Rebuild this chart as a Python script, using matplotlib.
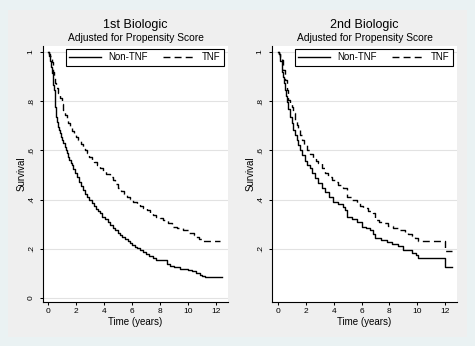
import matplotlib.pyplot as plt
from matplotlib.patches import Rectangle
from matplotlib.lines import Line2D

plt.rcParams['font.family'] = ['Liberation Sans', 'DejaVu Sans']

# Kaplan-Meier estimates, 1st biologic (time in years, survival after the step)
t1_non = [0.00, 0.08, 0.15, 0.22, 0.28, 0.33, 0.38, 0.43, 0.47, 0.50, 0.54, 0.57,
          0.65, 0.74, 0.80, 0.86, 0.95, 1.03, 1.10, 1.18, 1.26, 1.33, 1.42, 1.52,
          1.61, 1.70, 1.80, 1.93, 2.05, 2.20, 2.35, 2.52, 2.65, 2.80, 2.96, 3.12,
          3.26, 3.40, 3.55, 3.71, 3.88, 4.05, 4.25, 4.43, 4.62, 4.80, 4.97, 5.14,
          5.32, 5.50, 5.68, 5.86, 6.03, 6.20, 6.38, 6.57, 6.80, 7.00, 7.25, 7.52,
          7.75, 8.50, 8.71, 9.00, 9.40, 9.67, 10.00, 10.30, 10.60, 10.85, 11.00, 11.20,
          12.40]
s1_non = [1.000, 0.990, 0.965, 0.940, 0.915, 0.890, 0.866, 0.846, 0.815, 0.778, 0.755, 0.737,
          0.715, 0.696, 0.682, 0.670, 0.655, 0.641, 0.630, 0.615, 0.602, 0.590, 0.575, 0.561,
          0.550, 0.540, 0.524, 0.507, 0.490, 0.470, 0.455, 0.439, 0.424, 0.410, 0.397, 0.385,
          0.373, 0.363, 0.354, 0.344, 0.331, 0.320, 0.308, 0.297, 0.286, 0.275, 0.265, 0.256,
          0.247, 0.238, 0.230, 0.222, 0.215, 0.208, 0.202, 0.195, 0.187, 0.180, 0.170, 0.161,
          0.154, 0.140, 0.130, 0.124, 0.119, 0.117, 0.112, 0.108, 0.100, 0.093, 0.088, 0.084,
          0.084]
t1_tnf = [0.00, 0.05, 0.10, 0.18, 0.26, 0.32, 0.38, 0.44, 0.50, 0.60, 0.74, 0.85,
          0.97, 1.10, 1.22, 1.35, 1.46, 1.57, 1.72, 1.87, 2.02, 2.17, 2.32, 2.48,
          2.64, 2.80, 2.96, 3.12, 3.30, 3.50, 3.71, 3.90, 4.15, 4.43, 4.62, 4.82,
          5.02, 5.22, 5.42, 5.62, 5.85, 6.10, 6.35, 6.58, 6.81, 7.05, 7.28, 7.52,
          7.75, 8.00, 8.24, 8.55, 8.83, 9.20, 9.67, 10.05, 10.40, 10.60, 10.79, 11.00,
          12.29]
s1_tnf = [1.000, 0.990, 0.982, 0.972, 0.960, 0.940, 0.918, 0.895, 0.875, 0.855, 0.832, 0.812,
          0.788, 0.764, 0.745, 0.727, 0.711, 0.696, 0.680, 0.666, 0.653, 0.642, 0.628, 0.615,
          0.602, 0.588, 0.575, 0.561, 0.551, 0.539, 0.527, 0.518, 0.505, 0.493, 0.478, 0.462,
          0.446, 0.434, 0.423, 0.412, 0.402, 0.392, 0.382, 0.373, 0.365, 0.356, 0.346, 0.337,
          0.331, 0.324, 0.317, 0.303, 0.290, 0.283, 0.276, 0.266, 0.256, 0.248, 0.238, 0.232,
          0.232]

# 2nd biologic
t2_non = [0.00, 0.10, 0.18, 0.26, 0.32, 0.38, 0.44, 0.50, 0.56, 0.62, 0.74, 0.86,
          0.98, 1.10, 1.22, 1.34, 1.46, 1.58, 1.76, 1.94, 2.12, 2.30, 2.42, 2.66,
          2.90, 3.14, 3.38, 3.68, 3.97, 4.33, 4.69, 4.85, 4.98, 5.30, 5.65, 6.01,
          6.30, 6.61, 6.80, 6.97, 7.40, 7.81, 8.20, 8.64, 9.00, 9.60, 9.90, 10.08,
          12.00, 12.48]
s2_non = [1.000, 0.990, 0.965, 0.940, 0.920, 0.900, 0.873, 0.846, 0.822, 0.798, 0.767, 0.737,
          0.710, 0.683, 0.663, 0.642, 0.622, 0.602, 0.580, 0.557, 0.542, 0.527, 0.507, 0.487,
          0.466, 0.449, 0.432, 0.412, 0.392, 0.382, 0.371, 0.358, 0.331, 0.320, 0.310, 0.290,
          0.283, 0.276, 0.260, 0.243, 0.236, 0.229, 0.220, 0.211, 0.195, 0.182, 0.175, 0.161,
          0.127, 0.127]
t2_tnf = [0.00, 0.10, 0.18, 0.26, 0.38, 0.50, 0.62, 0.74, 0.86, 0.98, 1.10, 1.22,
          1.34, 1.46, 1.58, 1.70, 1.88, 2.06, 2.30, 2.54, 2.72, 2.90, 3.14, 3.38,
          3.62, 3.86, 4.10, 4.33, 4.70, 4.98, 5.30, 5.65, 5.90, 6.13, 6.50, 6.85,
          6.97, 7.27, 7.57, 7.93, 8.29, 8.70, 9.12, 9.35, 9.60, 9.85, 10.08, 12.00,
          12.48]
s2_tnf = [1.000, 0.990, 0.980, 0.967, 0.925, 0.886, 0.845, 0.805, 0.790, 0.778, 0.751, 0.724,
          0.703, 0.683, 0.662, 0.642, 0.622, 0.602, 0.585, 0.568, 0.558, 0.548, 0.527, 0.507,
          0.493, 0.480, 0.470, 0.459, 0.446, 0.412, 0.398, 0.385, 0.375, 0.365, 0.354, 0.344,
          0.317, 0.310, 0.303, 0.293, 0.283, 0.276, 0.270, 0.261, 0.252, 0.242, 0.232, 0.191,
          0.191]

xticks = [0, 2, 4, 6, 8, 10, 12]
yticks_1 = [0, 0.2, 0.4, 0.6, 0.8, 1]
ylabels_1 = ['0', '.2', '.4', '.6', '.8', '1']
yticks_2 = [0.2, 0.4, 0.6, 0.8, 1]
ylabels_2 = ['.2', '.4', '.6', '.8', '1']

W, H = 475, 346
fig = plt.figure(figsize=(W / 100, H / 100), dpi=100, facecolor='#EAF2F3')
# gray graph region behind both panels
fig.patches.append(Rectangle((8 / W, 9 / H), 459 / W, 327 / H, transform=fig.transFigure,
                             facecolor='#EFEFEF', edgecolor='none', zorder=-10))


def panel(left, xmin, title, t_non, s_non, t_tnf, s_tnf, yticks, ylabels):
    ax = fig.add_axes([left / W, 44 / H, 185 / W, 256 / H])
    ax.set_facecolor('white')
    ax.step(t_non, s_non, where='post', color='black', lw=1.0)
    ax.step(t_tnf, s_tnf, where='post', color='black', lw=1.0, linestyle=(0, (5, 3)))
    ax.set_xlim(xmin, 12.86)
    ax.set_ylim(-0.0163, 1.0244)
    ax.set_xticks(xticks)
    ax.set_yticks(yticks)
    ax.set_yticklabels(ylabels, rotation=90, va='center')
    ax.grid(axis='y', color='#E2E2E2', lw=0.8)
    ax.set_axisbelow(True)
    for side in ['top', 'right']:
        ax.spines[side].set_visible(False)
    for side in ['left', 'bottom']:
        ax.spines[side].set_linewidth(0.8)
    ax.tick_params(direction='out', length=2.4, width=0.75, labelsize=6)
    ax.tick_params(axis='y', pad=3.5)
    ax.tick_params(axis='x', pad=2)
    ax.set_xlabel('Time (years)', fontsize=7)
    ax.xaxis.set_label_coords(0.5, -0.058)
    ax.set_ylabel('Survival', fontsize=7)
    ax.yaxis.set_label_coords(-0.089, 0.5)
    ax.text(0.5, 1.070, title, transform=ax.transAxes, ha='center', va='baseline', fontsize=9)
    ax.text(0.5, 1.0195, 'Adjusted for Propensity Score', transform=ax.transAxes,
            ha='center', va='baseline', fontsize=7.4)
    handles = [Line2D([], [], color='black', lw=1.0),
               Line2D([], [], color='black', lw=1.0, linestyle=(0, (5, 3)))]
    leg = ax.legend(handles, ['Non-TNF', 'TNF'], ncol=2, loc='upper right',
                    bbox_to_anchor=(0.978, 0.988), borderaxespad=0, fancybox=False,
                    edgecolor='black', framealpha=1, fontsize=7, handlelength=3.3,
                    handletextpad=0.7, columnspacing=1.6, borderpad=0.35)
    leg.get_frame().set_linewidth(0.8)
    return ax


panel(43, -0.36, '1st Biologic', t1_non, s1_non, t1_tnf, s1_tnf, yticks_1, ylabels_1)
panel(272, -0.43, '2nd Biologic', t2_non, s2_non, t2_tnf, s2_tnf, yticks_2, ylabels_2)

fig.savefig('out.png', dpi=100, facecolor=fig.get_facecolor())
